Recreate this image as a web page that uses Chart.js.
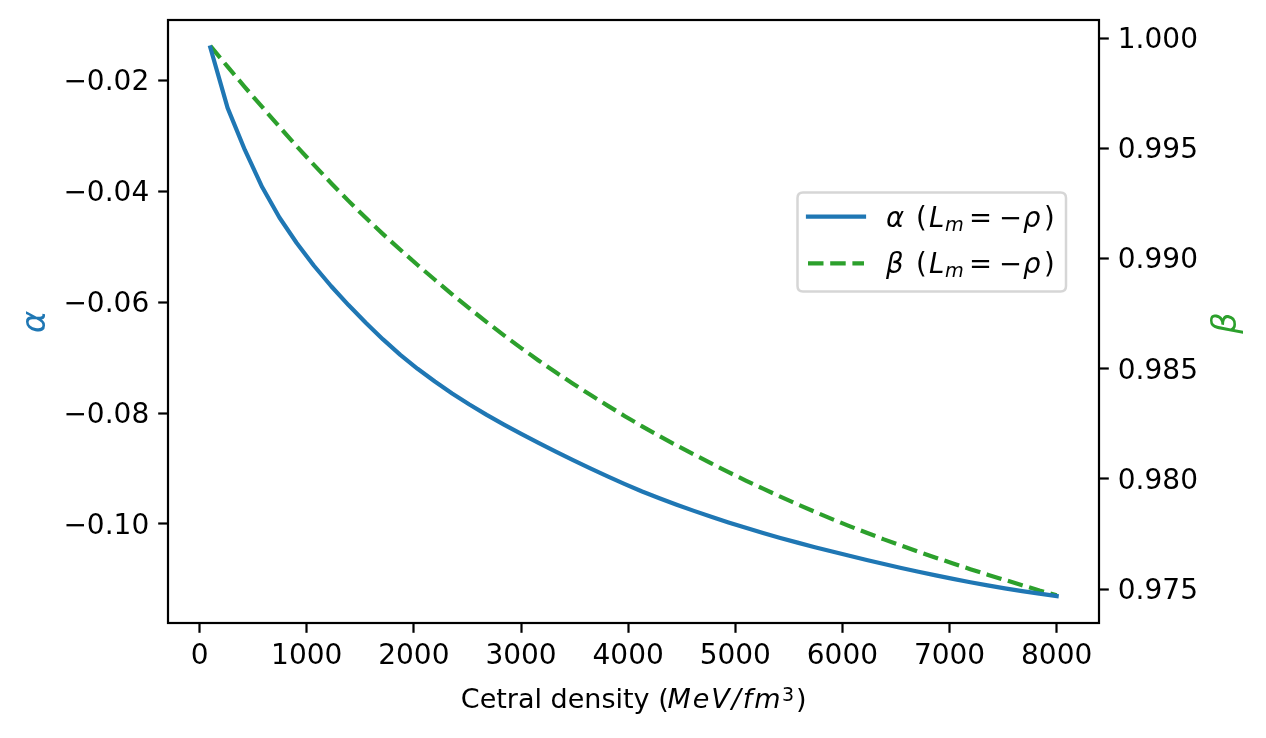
<!DOCTYPE html>
<html>
<head>
<meta charset="utf-8">
<style>
  html, body { margin: 0; padding: 0; background: #ffffff; }
  canvas { display: block; }
</style>
<script src="https://cdn.jsdelivr.net/npm/chart.js@4.4.1/dist/chart.umd.min.js"></script>
</head>
<body>
<canvas id="c" width="1266" height="738"></canvas>
<script>
// ---------------- data ----------------
const density = [
  100, 261.2, 422.4, 583.7, 744.9, 906.1, 1067.3, 1228.6, 1389.8, 1551.0,
  1712.2, 1873.5, 2034.7, 2195.9, 2357.1, 2518.4, 2679.6, 2840.8, 3002.0, 3163.3,
  3324.5, 3485.7, 3646.9, 3808.2, 3969.4, 4130.6, 4291.8, 4453.1, 4614.3, 4775.5,
  4936.7, 5098.0, 5259.2, 5420.4, 5581.6, 5742.9, 5904.1, 6065.3, 6226.5, 6387.8,
  6549.0, 6710.2, 6871.4, 7032.7, 7193.9, 7355.1, 7516.3, 7677.6, 7838.8, 8000
];
const alphaValues = [
  -0.01400, -0.02490, -0.03250, -0.03920, -0.04470, -0.04930, -0.05340, -0.05710, -0.06050, -0.06370,
  -0.06670, -0.06950, -0.07200, -0.07430, -0.07645, -0.07845, -0.08032, -0.08208, -0.08376, -0.08538,
  -0.08695, -0.08848, -0.08997, -0.09142, -0.09282, -0.09415, -0.09537, -0.09653, -0.09765, -0.09872,
  -0.09974, -0.10071, -0.10164, -0.10253, -0.10338, -0.10420, -0.10499, -0.10576, -0.10651, -0.10724,
  -0.10795, -0.10864, -0.10930, -0.10993, -0.11053, -0.11110, -0.11163, -0.11213, -0.11260, -0.11303
];
const betaValues = [
  0.99965, 0.99871, 0.99778, 0.99688, 0.99598, 0.99510, 0.99425, 0.99342, 0.99262, 0.99185,
  0.99111, 0.99040, 0.98971, 0.98904, 0.98838, 0.98774, 0.98712, 0.98652, 0.98594, 0.98538,
  0.98484, 0.98432, 0.98382, 0.98333, 0.98285, 0.98239, 0.98195, 0.98152, 0.98111, 0.98071,
  0.98031, 0.97993, 0.97956, 0.97920, 0.97885, 0.97851, 0.97818, 0.97786, 0.97756, 0.97726,
  0.97698, 0.97670, 0.97643, 0.97617, 0.97591, 0.97566, 0.97542, 0.97518, 0.97494, 0.97472
];
const xTickValues = [0, 1000, 2000, 3000, 4000, 5000, 6000, 7000, 8000];
const xTickLabels = ['0', '1000', '2000', '3000', '4000', '5000', '6000', '7000', '8000'];
const alphaTickValues = [-0.10, -0.08, -0.06, -0.04, -0.02];
const alphaTickLabels = ['\u22120.10', '\u22120.08', '\u22120.06', '\u22120.04', '\u22120.02'];
const betaTickValues = [0.975, 0.980, 0.985, 0.990, 0.995, 1.000];
const betaTickLabels = ['0.975', '0.980', '0.985', '0.990', '0.995', '1.000'];
const seriesNames = ['\u03b1', '\u03b2'];
const seriesLabels = ['\u03b1 (Lm = \u2212\u03c1)', '\u03b2 (Lm = \u2212\u03c1)'];
const xTitleParts = ['Cetral density (', 'MeV/fm', '3', ')'];
const yTitle = '\u03b1';
const y1Title = '\u03b2';

// ---------------- styling ----------------
const FONT = "'DejaVu Sans', sans-serif";
const BLUE = '#1f77b4';
const GREEN = '#2ca02c';
const FS_TICK = 28;
const FS_TEXT = 27.5;
const FS_YLAB = 33.6;
const LW = 4.2;
const DASH = [15.5, 6.7];

function fontStr(italic, size) {
  return (italic ? 'italic ' : '') + size + 'px ' + FONT;
}

const framePlugin = {
  id: 'frame',
  afterDatasetsDraw(chart) {
    const { ctx, chartArea: a } = chart;
    ctx.save();
    ctx.strokeStyle = '#000';
    ctx.lineWidth = 2.2;
    ctx.strokeRect(a.left, a.top, a.right - a.left, a.bottom - a.top);
    ctx.restore();
  }
};

const textPlugin = {
  id: 'texts',
  afterDraw(chart) {
    const { ctx, chartArea: a } = chart;
    ctx.save();
    ctx.textBaseline = 'alphabetic';
    ctx.textAlign = 'left';

    // ----- legend -----
    const bx = 797.5, by = 192.5, bw = 268.5, bh = 99, r = 5.5;
    ctx.beginPath();
    ctx.moveTo(bx + r, by);
    ctx.lineTo(bx + bw - r, by);
    ctx.quadraticCurveTo(bx + bw, by, bx + bw, by + r);
    ctx.lineTo(bx + bw, by + bh - r);
    ctx.quadraticCurveTo(bx + bw, by + bh, bx + bw - r, by + bh);
    ctx.lineTo(bx + r, by + bh);
    ctx.quadraticCurveTo(bx, by + bh, bx, by + bh - r);
    ctx.lineTo(bx, by + r);
    ctx.quadraticCurveTo(bx, by, bx + r, by);
    ctx.closePath();
    ctx.fillStyle = 'rgba(255,255,255,0.8)';
    ctx.fill();
    ctx.strokeStyle = 'rgba(204,204,204,0.8)';
    ctx.lineWidth = 2.5;
    ctx.stroke();

    const rows = [
      { y: 216.7, color: BLUE, dash: [], cap: 'square', name: seriesNames[0], base: 226.5 },
      { y: 263.3, color: GREEN, dash: DASH, cap: 'butt', name: seriesNames[1], base: 273 }
    ];
    rows.forEach(row => {
      ctx.save();
      ctx.strokeStyle = row.color;
      ctx.lineWidth = LW;
      ctx.lineCap = row.cap;
      ctx.setLineDash(row.dash);
      ctx.beginPath();
      ctx.moveTo(808, row.y);
      ctx.lineTo(864, row.y);
      ctx.stroke();
      ctx.restore();

      ctx.fillStyle = '#000';
      const x0 = 886;
      const segs = [
        { t: row.name, it: true, dx: 0, sc: 1, dy: 0 },
        { t: '(', it: false, dx: 30, sc: 1, dy: 0 },
        { t: 'L', it: true, dx: 43, sc: 1, dy: 0 },
        { t: 'm', it: true, dx: 59, sc: 0.7, dy: 4 },
        { t: '=', it: false, dx: 83, sc: 1, dy: 0 },
        { t: '\u2212', it: false, dx: 113, sc: 1, dy: 0 },
        { t: '\u03c1', it: true, dx: 137, sc: 1, dy: 0 },
        { t: ')', it: false, dx: 158, sc: 1, dy: 0 }
      ];
      segs.forEach(s => {
        ctx.font = fontStr(s.it, FS_TEXT * s.sc);
        ctx.fillText(s.t, x0 + s.dx, row.base + s.dy);
      });
    });

    // ----- x axis title -----
    const xBase = 708;
    ctx.fillStyle = '#000';
    ctx.font = fontStr(false, 27);
    ctx.fillText(xTitleParts[0], 460.8, xBase);
    ctx.font = fontStr(true, 27);
    const chars = Array.from(xTitleParts[1]);
    const natural = ctx.measureText(xTitleParts[1]).width;
    const extra = (113 - natural) / (chars.length - 1);
    let ux = 667.5;
    chars.forEach(ch => {
      ctx.fillText(ch, ux, xBase);
      ux += ctx.measureText(ch).width + extra;
    });
    ctx.font = fontStr(false, 19);
    ctx.fillText(xTitleParts[2], 782, xBase - 6.6);
    ctx.font = fontStr(false, 27);
    ctx.fillText(xTitleParts[3], 796, xBase);

    // ----- y axis titles (both rotated counter-clockwise) -----
    const midY = (a.top + a.bottom) / 2;
    ctx.font = fontStr(true, FS_YLAB);
    ctx.textAlign = 'center';
    ctx.save();
    ctx.translate(45, midY + 0.5);
    ctx.rotate(-Math.PI / 2);
    ctx.fillStyle = BLUE;
    ctx.fillText(yTitle, 0, 0);
    ctx.restore();

    ctx.save();
    ctx.translate(1235.5, midY + 1.5);
    ctx.rotate(-Math.PI / 2);
    ctx.fillStyle = GREEN;
    ctx.fillText(y1Title, 0, 0);
    ctx.restore();

    ctx.restore();
  }
};

function tickGrid() {
  return { display: true, drawOnChartArea: false, drawTicks: true, tickLength: 9.8, tickWidth: 2.2, tickColor: '#000' };
}
function noPad(s) {
  s.paddingTop = 0; s.paddingBottom = 0; s.paddingLeft = 0; s.paddingRight = 0;
}

new Chart(document.getElementById('c'), {
  type: 'line',
  data: {
    datasets: [
      {
        label: seriesLabels[0],
        data: density.map((x, i) => ({ x: x, y: alphaValues[i] })),
        yAxisID: 'y',
        borderColor: BLUE,
        backgroundColor: BLUE,
        borderWidth: LW,
        pointRadius: 0,
        tension: 0,
        fill: false,
        borderCapStyle: 'square',
        borderJoinStyle: 'round'
      },
      {
        label: seriesLabels[1],
        data: density.map((x, i) => ({ x: x, y: betaValues[i] })),
        yAxisID: 'y1',
        borderColor: GREEN,
        backgroundColor: GREEN,
        borderWidth: LW,
        borderDash: DASH,
        pointRadius: 0,
        tension: 0,
        fill: false,
        borderCapStyle: 'butt',
        borderJoinStyle: 'round'
      }
    ]
  },
  options: {
    responsive: false,
    animation: false,
    devicePixelRatio: 1,
    layout: { padding: { top: 20, left: 0, right: 0, bottom: 0 } },
    plugins: {
      legend: { display: false },
      tooltip: { enabled: false },
      title: { display: false }
    },
    scales: {
      x: {
        type: 'linear',
        position: 'bottom',
        min: -295,
        max: 8395,
        afterBuildTicks: s => { s.ticks = xTickValues.map(v => ({ value: v })); },
        afterFit: s => { s.height = 115; noPad(s); },
        ticks: {
          callback: (v, i) => xTickLabels[i],
          font: { family: FONT, size: FS_TICK },
          color: '#000',
          padding: 7,
          maxRotation: 0,
          autoSkip: false
        },
        grid: tickGrid(),
        border: { display: false }
      },
      y: {
        type: 'linear',
        position: 'left',
        min: -0.11789,
        max: -0.00904,
        afterBuildTicks: s => { s.ticks = alphaTickValues.map(v => ({ value: v })); },
        afterFit: s => { s.width = 168; noPad(s); },
        ticks: {
          callback: (v, i) => alphaTickLabels[i],
          font: { family: FONT, size: FS_TICK },
          color: '#000',
          padding: 9,
          labelOffset: 2.5,
          autoSkip: false
        },
        grid: tickGrid(),
        border: { display: false }
      },
      y1: {
        type: 'linear',
        position: 'right',
        min: 0.973466,
        max: 1.000826,
        afterBuildTicks: s => { s.ticks = betaTickValues.map(v => ({ value: v })); },
        afterFit: s => { s.width = 167; noPad(s); },
        ticks: {
          callback: (v, i) => betaTickLabels[i],
          font: { family: FONT, size: FS_TICK },
          color: '#000',
          padding: 9,
          labelOffset: 2.5,
          autoSkip: false
        },
        grid: tickGrid(),
        border: { display: false }
      }
    }
  },
  plugins: [framePlugin, textPlugin]
});
</script>
</body>
</html>
